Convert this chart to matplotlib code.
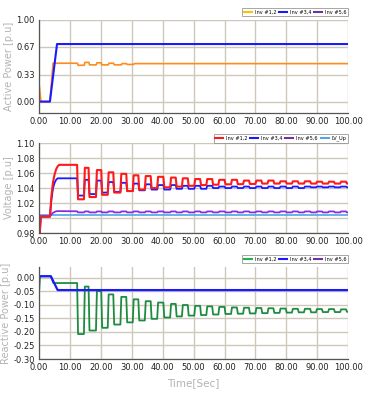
import matplotlib.pyplot as plt
from matplotlib.lines import Line2D
import numpy as np

# ---- data ----
# switching instants of the oscillation (seconds)
drops = [12.3, 16.0, 20.1, 24.0, 28.2, 32.1, 36.1, 40.2, 44.2, 48.1, 52.1, 56.0,
         60.0, 64.0, 67.9, 71.9, 75.8, 79.8, 83.7, 87.7, 91.5, 95.4, 99.3]
rises = [14.5, 18.4, 22.2, 26.3, 30.3, 34.2, 38.2, 42.4, 46.2, 50.2, 54.1, 58.0,
         62.1, 66.0, 70.0, 73.9, 77.8, 81.8, 85.7, 89.6, 93.5, 97.4]

# active power
act_t12 = [0, 0.05, 0.6, 3.5, 4.5, 12.4, 12.6, 14.6, 14.8, 16.1, 16.3, 18.5, 18.7, 20.1,
           20.3, 22.4, 22.6, 24.1, 24.3, 26.6, 26.8, 28.3, 28.5, 30.6, 30.8, 100]
act_inv12 = [0.0, 0.2, 0.0, 0.0, 0.47, 0.47, 0.445, 0.445, 0.48, 0.48, 0.45, 0.45, 0.475, 0.475,
             0.45, 0.45, 0.47, 0.47, 0.45, 0.45, 0.465, 0.465, 0.455, 0.455, 0.465, 0.465]
act_t34 = [0, 3.5, 5.8, 100]
act_inv34 = [0.0, 0.0, 0.705, 0.705]

# voltage - start-up part, then step levels per cycle
v_pre_t = [0, 0.5, 3.5, 4.0, 4.5, 5.0, 5.5, 6.0, 6.5, 12.3]
v12_pre = [0.96, 1.002, 1.002, 1.030, 1.048, 1.058, 1.065, 1.069, 1.071, 1.071]
v34_pre = [0.96, 1.002, 1.002, 1.025, 1.040, 1.047, 1.051, 1.053, 1.053, 1.053]
v56_pre = [0.96, 1.002, 1.002, 1.005, 1.007, 1.008, 1.009, 1.0092, 1.0092, 1.009]
v12_low = [1.025, 1.028, 1.031, 1.034, 1.036, 1.038, 1.040, 1.041, 1.042, 1.043, 1.044, 1.0445,
           1.045, 1.0452, 1.0455, 1.046, 1.046, 1.046, 1.046, 1.046, 1.046, 1.046, 1.046]
v12_high = [1.067, 1.064, 1.061, 1.059, 1.057, 1.056, 1.055, 1.054, 1.053, 1.052, 1.052, 1.051,
            1.051, 1.050, 1.050, 1.050, 1.049, 1.049, 1.049, 1.0485, 1.0485, 1.0485]
v34_low = [1.030, 1.032, 1.034, 1.035, 1.036, 1.037, 1.038, 1.038, 1.039, 1.039, 1.039, 1.040,
           1.040, 1.040, 1.040, 1.040, 1.040, 1.040, 1.040, 1.041, 1.041, 1.041, 1.041]
v34_high = [1.051, 1.050, 1.048, 1.047, 1.046, 1.045, 1.044, 1.044, 1.043, 1.043, 1.043, 1.042,
            1.042, 1.042, 1.042, 1.042, 1.042, 1.042, 1.042, 1.042, 1.042, 1.042]
v56_low = [1.0075] * 23
v56_high = [1.0088] * 22
lv_up_t = [0, 100]
lv_up = [1.0035, 1.0035]

# reactive power
q_pre_t = [0, 0.3, 3.8, 4.6, 12.3]
q12_pre = [-0.05, 0.005, 0.005, -0.02, -0.02]
q12_low = [-0.208, -0.195, -0.185, -0.173, -0.165, -0.158, -0.152, -0.147, -0.143, -0.140, -0.138,
           -0.136, -0.134, -0.133, -0.132, -0.131, -0.130, -0.129, -0.128, -0.128, -0.127, -0.127, -0.126]
q12_high = [-0.033, -0.050, -0.062, -0.071, -0.080, -0.087, -0.092, -0.097, -0.101, -0.104, -0.106,
            -0.108, -0.110, -0.111, -0.112, -0.113, -0.114, -0.115, -0.115, -0.116, -0.116, -0.117]
q_t34 = [0, 0.3, 3.8, 6.0, 100]
q_inv34 = [0.0, 0.005, 0.005, -0.046, -0.046]


def steps(t_pre, v_pre, lows, highs, edge=0.3):
    t, v = list(t_pre), list(v_pre)
    for i, d in enumerate(drops):
        t += [d + edge]
        v += [lows[i]]
        if i < len(rises):
            t += [rises[i], rises[i] + edge]
            v += [lows[i], highs[i]]
            nxt = drops[i + 1] if i + 1 < len(drops) else 100
            t += [nxt]
            v += [highs[i]]
    t += [100]
    v += [v[-1]]
    return t, v


xt = np.arange(0, 101, 10)
xlab = ['%.2f' % x for x in xt]
grid_c = '#cdc8bb'
ylab_c = '#b3b3b3'

fig = plt.figure(figsize=(3.76, 3.96), dpi=100)
ax1 = fig.add_axes([0.104, 0.7146, 0.822, 0.235])
ax2 = fig.add_axes([0.104, 0.4116, 0.822, 0.227])
ax3 = fig.add_axes([0.104, 0.0934, 0.822, 0.233])


def style(ax, yt, ylim, ylabel):
    ax.set_xlim(0, 100)
    ax.set_ylim(*ylim)
    ax.set_xticks(xt)
    ax.set_xticklabels(xlab)
    ax.set_yticks(yt)
    ax.set_yticklabels(['%.2f' % y for y in yt])
    ax.tick_params(length=0, labelsize=6, pad=3, colors='#222222')
    ax.grid(True, color=grid_c, lw=1)
    ax.set_axisbelow(True)
    for s in ['top', 'right']:
        ax.spines[s].set_visible(False)
    for s in ['left', 'bottom']:
        ax.spines[s].set_color('#555555')
        ax.spines[s].set_linewidth(0.9)
    ax.set_ylabel(ylabel, color=ylab_c, fontsize=7, labelpad=2)


def legend(ax, labels, colors, gap):
    h = [Line2D([], [], color=c, lw=1.5) for c in colors]
    lg = ax.legend(h, labels, loc='lower right', bbox_to_anchor=(1.0, 1.0 + gap), ncol=len(labels),
                   fontsize=3.6, frameon=True, fancybox=False, borderpad=0.35, handlelength=1.6,
                   handletextpad=0.6, columnspacing=0.5, borderaxespad=0)
    lg.get_frame().set_edgecolor('#7f7f7f')
    lg.get_frame().set_linewidth(0.6)


# active power
ax1.plot(act_t12, act_inv12, color='#ff8c1a', lw=1.2)
ax1.plot(act_t34, act_inv34, color='#1a1aff', lw=1.5)
style(ax1, [0.0, 0.33, 0.67, 1.0], (-0.14, 1.0), 'Active Power [p.u]')
legend(ax1, ['Inv #1,2', 'Inv #3,4', 'Inv #5,6'], ['#ffc000', '#1a1aff', '#7030a0'], 0.04)

# voltage
t, v = steps(v_pre_t, v56_pre, v56_low, v56_high)
ax2.plot(lv_up_t, lv_up, color='#4ea6e6', lw=1.2)
ax2.plot(t, v, color='#8a2be2', lw=1.3)
t, v = steps(v_pre_t, v34_pre, v34_low, v34_high)
ax2.plot(t, v, color='#1a1aff', lw=1.3)
t, v = steps(v_pre_t, v12_pre, v12_low, v12_high)
ax2.plot(t, v, color='#ff1a1a', lw=1.5)
style(ax2, [0.98, 1.00, 1.02, 1.04, 1.06, 1.08, 1.10], (0.98, 1.10), 'Voltage [p.u]')
legend(ax2, ['Inv #1,2', 'Inv #3,4', 'Inv #5,6', 'LV_Up'], ['#ff1a1a', '#1a1aff', '#7030a0', '#4ea6e6'], 0.0)

# reactive power
t, q = steps(q_pre_t, q12_pre, q12_low, q12_high)
ax3.plot(t, q, color='#1e8c40', lw=1.3)
ax3.plot(q_t34, q_inv34, color='#1a1aff', lw=1.6)
style(ax3, [0.0, -0.05, -0.10, -0.15, -0.20, -0.25, -0.30], (-0.30, 0.04), 'Reactive Power [p.u]')
legend(ax3, ['Inv #1,2', 'Inv #3,4', 'Inv #5,6'], ['#22b14c', '#1a1aff', '#7030a0'], 0.04)
ax3.set_xlabel('Time[Sec]', color=ylab_c, fontsize=7.5, labelpad=4)

fig.savefig('out.png', dpi=100)
